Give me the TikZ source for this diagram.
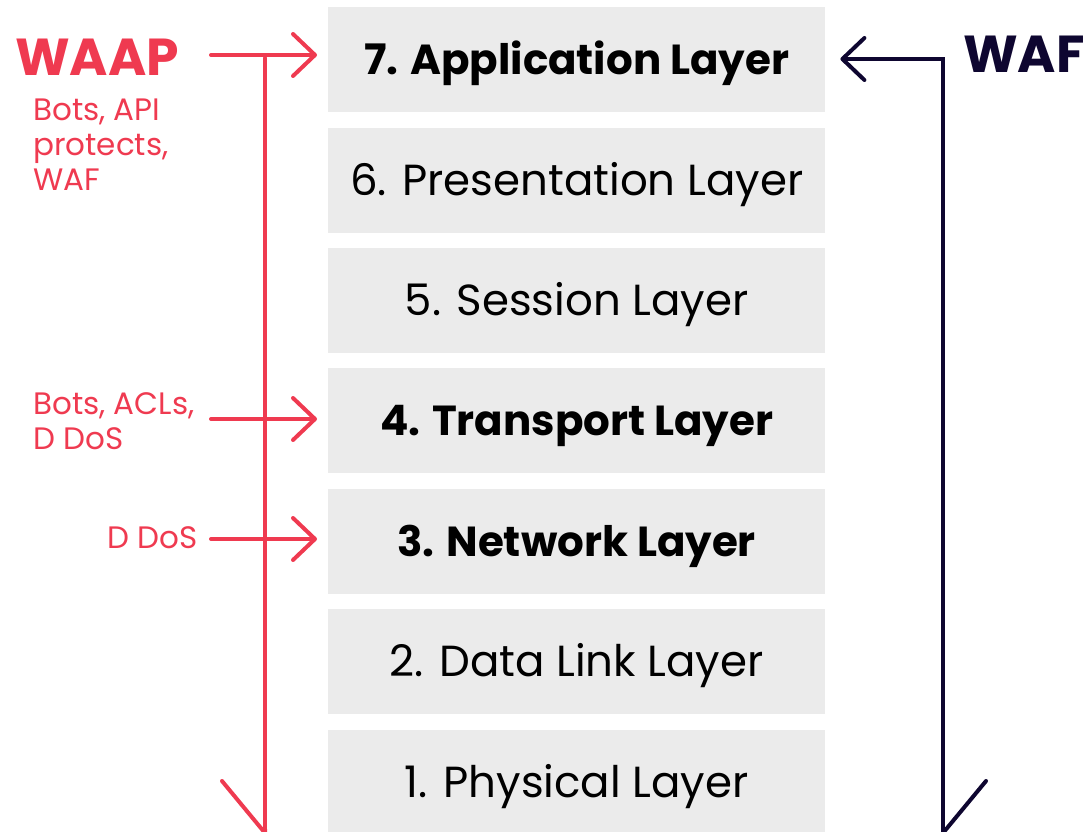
\documentclass[tikz,border=0pt]{standalone}
\usepackage{fontspec}
\setmainfont{Poppins}
\usepackage{xcolor}
\usetikzlibrary{arrows.meta,positioning}
\definecolor{waap-red}{RGB}{239,58,80}
\definecolor{waf-navy}{RGB}{14,6,48}
\definecolor{layer-gray}{RGB}{235,235,235}
\tikzset{
    layer-box/.style = {fill=layer-gray, rectangle, minimum width=497pt, minimum height=105pt, inner sep=0pt, text=black, font=\fontsize{43.5}{52}\selectfont, text height=30.5pt, text depth=0pt},
    layer-bold/.style = {layer-box, font=\fontsize{42}{50}\selectfont\bfseries, text height=29.5pt},
    side-title/.style = {font=\fontsize{52}{60}\selectfont\bfseries, inner sep=0pt, anchor=base west},
    side-note/.style = {text=waap-red, font=\fontsize{31}{35}\selectfont, align=left, inner sep=0pt},
    waap-line/.style = {draw=waap-red, line width=4pt, line cap=round},
    waf-line/.style = {draw=waf-navy, line width=4pt, line cap=round},
    barb/.style = {-{Straight Barb[length=22pt, width=42pt, round]}},
}

\begin{document}
\begin{tikzpicture}[x=1pt, y=-1pt]
\useasboundingbox (0,0) rectangle (1092,832);
% the seven layers
\node[layer-bold, anchor=north west] (l7) at (328,7) {7. Application Layer};
\node[layer-box, below=15pt of l7] (l6) {6. Presentation Layer};
\node[layer-box, below=15pt of l6] (l5) {5. Session Layer};
\node[layer-bold, below=15pt of l5] (l4) {4. Transport Layer};
\node[layer-bold, below=15pt of l4] (l3) {3. Network Layer};
\node[layer-box, below=15pt of l3] (l2) {2. Data Link Layer};
\node[layer-box, below=15pt of l2] (l1) {1. Physical Layer};

% WAAP side
\node[side-title, text=waap-red] (waap) at (15,76) {WAAP};
\node[side-note, anchor=north west] (waap-note) at (33,99) {Bots, API\\protects,\\WAF};
\node[side-note, anchor=north west] (acl-note) at (33,392) {Bots, ACLs,\\D DoS};
\node[side-note, anchor=base east] (ddos-note) at (198,548) {D DoS};
\coordinate (waap-start) at (211,55);
\coordinate (acl-start) at (211,419);
\coordinate (ddos-start) at (211,539);
\coordinate (waap-top) at (265,58);
\coordinate (waap-bottom) at (265,835);
\draw[waap-line, barb, shorten >=11pt] (waap-start) -- (waap-start -| l7.west);
\draw[waap-line, barb, shorten >=11pt] (acl-start) -- (acl-start -| l4.west);
\draw[waap-line, barb, shorten >=11pt] (ddos-start) -- (ddos-start -| l3.west);
\draw[waap-line, -{Straight Barb[right, length=52pt, width=86pt, round]}] (waap-top) -- (waap-bottom);

% WAF side
\node[side-title, text=waf-navy] (waf) at (963,73) {WAF};
\coordinate (waf-corner) at (943,59);
\coordinate (waf-bottom) at (943,835);
\draw[waf-line, {Straight Barb[length=22pt, width=42pt, round]}-{Straight Barb[left, length=52pt, width=86pt, round]}, shorten <=15pt] (waf-corner -| l7.east) -- (waf-corner) -- (waf-bottom);
\end{tikzpicture}
\end{document}
